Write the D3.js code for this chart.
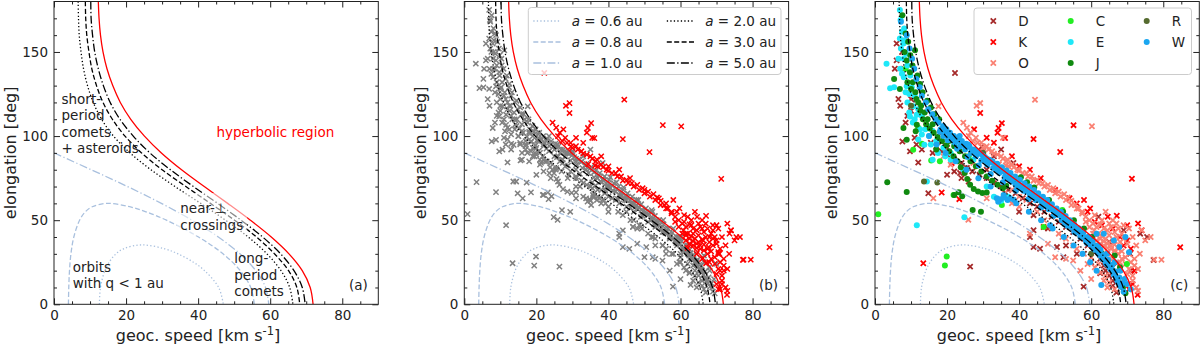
<!DOCTYPE html>
<html>
<head>
<meta charset="utf-8">
<script src="https://cdn.jsdelivr.net/npm/d3@7"></script>
<style>
  body { margin: 0; background: #fff; }
  svg { display: block; font-family: "DejaVu Sans", sans-serif; }
</style>
</head>
<body>
<div id="vis"></div>
<script>
// ---- theoretical curves: [geoc. speed, elongation] ----
const curveA06 = [[12.6,0],[12.9,10],[14.1,20],[15.3,25],[17.2,30],[19.3,33],[24.3,35.3],[30.7,33],[34.4,30],[38.7,25],[41.8,20],[45.7,10],[47.0,0]];
const curveA08 = [[4.0,0],[4.1,10],[4.3,20],[4.7,30],[5.5,40],[7.1,50],[8.7,55],[10.6,58],[14.9,60],[21.0,58],[25.5,55],[31.2,50],[40.1,40],[46.9,30],[51.7,20],[54.6,10],[55.6,0]];
const curveA10 = [[0,90],[10.3,80],[20.4,70],[29.8,60],[38.3,50],[45.6,40],[51.6,30],[56.0,20],[58.7,10],[59.6,0]];
const curveA20 = [[6.7,180],[6.8,170],[7.0,160],[7.5,150],[8.2,140],[9.3,130],[10.9,120],[13.2,110],[16.5,100],[21.1,90],[26.9,80],[33.6,70],[40.7,60],[47.6,50],[53.9,40],[59.1,30],[63.0,20],[65.4,10],[66.3,0]];
const curveA30 = [[8.7,180],[8.8,170],[9.1,160],[9.7,150],[10.5,140],[11.8,130],[13.6,120],[16.2,110],[19.7,100],[24.3,90],[30.0,80],[36.6,70],[43.4,60],[50.1,50],[56.2,40],[61.2,30],[65.1,20],[67.4,10],[68.2,0]];
const curveA50 = [[10.2,180],[10.3,170],[10.7,160],[11.3,150],[12.3,140],[13.7,130],[15.6,120],[18.3,110],[22.0,100],[26.6,90],[32.3,80],[38.7,70],[45.4,60],[51.9,50],[57.9,40],[62.9,30],[66.6,20],[68.9,10],[69.7,0]];
const curveHyp = [[12.3,180],[12.5,170],[12.9,160],[13.6,150],[14.7,140],[16.3,130],[18.4,120],[21.3,110],[25.1,100],[29.8,90],[35.4,80],[41.7,70],[48.2,60],[54.5,50],[60.3,40],[65.2,30],[68.9,20],[71.1,10],[71.9,0]];

const curveLabels = ['0.6', '0.8', '1.0', '2.0', '3.0', '5.0'];

// ---- meteors by class: [geoc. speed, elongation, hyperbolic(1/0)] ----
const pointsD = [
  [6,155,0],[7.6,96.8,0],[9.7,90.9,0],[12,84.3,0],[14.8,66,0],[23.6,78,0],[26.4,22.4,0],[18,101.8,0],[31,80,0],[38.4,84,0],
  [44,53,0],[44,44,0],[43,40,0],[44,34,0],[45.8,33,0],[50.5,34,0],[52.3,28,0],[57.9,10.5,0],[62.5,18.5,0],[59.7,40,0],
  [20,77,0],[22,79,0],[24,75,0],[26,73,0],[16,90,0],[13,92,0],[11,99,0],[7.5,150,0],[8,140,0],[10,122,0],
  [36,64,0],[40,55,0],[48,45,0],[53,35,0],[56,30,0],[60,25,0],[64,20,0],[66,14,0],[67,7,0],[35,92,0],[33,88,0],[30,91,0],
  [15.5,96,0],[17,94,0],[18.5,96.5,0],[20,93,0],[18.5,91,0],[20,89,0],[22,86,0],[24,84,0],[25.5,81,0],[27,79,0],
  [29,77,0],[31,75,0],[33,72,0],[35,70,0],[37,68,0],[39,66,0],[41,63,0],[43,60,0],[45,58,0],[47,55,0],
  [49,52,0],[51,49,0],[53,46,0],[55,43,0],[57,39,0],[59,35,0],[61,31,0],[62.5,27,0],[63.5,23,0],[65,17,0],
  [66,11,0],[10,115,0],[9,112,0],[8.5,108,0],[7,118,0],[6.5,122,0],[5.5,140,0],[6,145,0],[11.5,95,0],
  [22.2,137.5,1],[29.6,93.8,1],[67.1,24.4,1],[70.8,30,1],[73.6,42,1],[75.5,40,1],[77.3,26.4,1],[62,52,1],[65,37,1],[69,44,1],[71,20,1]
];
const pointsK = [
  [13.4,24.4,0],[18.5,66.5,0],[21.3,84,0],[23.4,62.5,0],[46.8,46,0],
  [29.2,113.7,1],[34.3,104.8,1],[35.2,107.7,1],[36.1,98.8,1],[44,98.2,1],[51.4,90.5,1],[55.1,106.5,1],[71.3,74.6,1],[84.7,33.9,1],
  [59.7,57,1],[64.6,52,1],[67.1,52.6,1],[74,44,1],[72.9,5.6,1],[70.5,9,1],[71.5,12,1],[72,20,1],[69,35,1],[34,102,1],[38,88,1],
  [43,80,1],[58,62,1],[59,55,1],[73,48,1],[70,47,1],
  [66,45,1],[68,40,1],[70,38,1],[71,33,1],[63,47,1],[61,49,1],[56,60,1],[54,63,1],[50,68,1],[46,75,1],[40,82,1],[33,96,1],[31,99,1],[27.5,104,1]
];
const pointsO = [
  [16.2,63,0],[17.6,117.7,0],[12.5,118,0],[14,110,0],[19,88,0],[21,83,0],[27.3,84,0],[25.9,50.2,0],[43,42,0],[48,36,0],
  [50,28,0],[53,27,0],[55,26,0],[57,20,0],[59,24,0],[60,15,0],[61,22,0],[62.5,19,0],[63.5,14,0],[64.5,10,0],[65.5,20,0],
  [55,35,0],[52,40,0],[45,55,0],[40,58,0],[38,60,0],[36,66,0],[31,63,0],
  [47,50,0],[49,46,0],[51,42,0],[53,39,0],[56,33,0],[58,30,0],[60,28,0],[62,24,0],[64,17,0],[65,13,0],[66.5,9,0],[42,62,0],[40,64,0],[38,68,0],
  [59.5,50,1],[60.5,48,1],[61.5,46,1],[62.5,47.5,1],[63.5,45,1],[64.5,44,1],[65.5,46,1],[66.5,43,1],[67.5,45,1],[68.5,42,1],
  [60.8,44,1],[62,42,1],[63,40.5,1],[64,39,1],[65,41,1],[66,38.5,1],[67,40,1],[68,37,1],[69,39,1],[70,36,1],
  [61.5,38,1],[62.5,36,1],[63.5,35,1],[64.5,33.5,1],[65.5,35,1],[66.5,32,1],[67.5,30,1],[68.5,31.5,1],[69.5,28,1],[70.5,30,1],
  [71,25,1],[72,23,1],[73,21,1],[70,18,1],[71.5,14,1],[72.5,10,1],[73,8,1],[66,27,1],[68,25,1],[64.5,30,1],[62,33.5,1],
  [58.5,52,1],[57.5,55,1],[56.5,57,1],[55.5,59,1],[54.5,61.5,1],[53.5,63.5,1],[52.5,65.5,1],[51,67,1],[49.5,69,1],[48,71,1],
  [46.5,72,1],[45,74,1],[43.5,76,1],[42,78,1],[74,44,1],[75,38,1],[76.5,40,1],[77.5,26.5,1],[79.5,26.5,1],[60.2,105.8,1],
  [44.4,121.6,1],[29.2,119.6,1],[28.2,118,1],[35.5,99,1],[37,82,1],[34.4,83.3,1],[36.3,82.5,1],[36.8,86,1],
  [26.5,102,1],[28,99,1],[29.5,96,1],[31,94,1],[32.5,91,1],[34,89,1],[35.5,86.5,1],[38.5,81.5,1],[40,79.5,1],
  [24.5,108,1],[25.5,105,1],[26,100,1],[27.2,97,1],[28.5,96,1],[30,93,1],[31.5,92,1],[33,89.5,1],[35,88,1],[36.5,85,1],
  [38,83,1],[39.5,80,1],[41,78,1],[42.5,76,1],[44,73.5,1],[45.5,72,1],[47,70,1],[48.5,68,1],[50,66,1],[51.5,64,1],
  [53,62,1],[54.5,59,1],[56,57,1],[57.5,54,1],[58.5,49,1],[59.5,46,1],[60.5,42,1],[61.5,41,1],[62.5,39,1],[63.5,37.5,1],
  [64.5,36,1],[65.5,33,1],[66.5,35.5,1],[67.5,33,1],[68.5,27,1],[69.5,24,1],[70.5,21,1],[71.5,17,1],[70.5,45,1],[71.5,40,1],
  [72.5,35,1],[73.5,30,1],[72,27,1],[63,50,1],[65,48,1],[67,48,1],[69,47,1],[61,53,1],[64,55,1],[66,50,1]
];
const pointsC = [
  [0.9,53.6,0],[19.9,28.4,0],[19.4,23,0],[13,95.4,0],[10.6,91.9,0],[15.6,85.5,0],[18,85,0],[21.8,65,0],[35.2,59,0],
  [46.8,46,0],[69.9,24,0],[8.5,140,0],[12,105,0],[52,56,0],[26,88,0],[40,70,0]
];
const pointsE = [
  [6.9,175,0],[7.1,169,0],[8.1,164,0],[6.9,158,0],[7.9,155,0],[8.6,149,0],[3.2,143,0],[5.3,129,0],[4.2,128.5,0],[8.8,129.6,0],
  [10.6,117.7,0],[9.7,111.7,0],[11.6,112.7,0],[13.7,94.8,0],[16,86,0],[14.4,73,0],[11.6,47,0],[24.8,51.8,0],[24.5,80,0],[27.3,86,0],
  [31,70,0],[9.5,125,0],[10.5,108,0],[12.5,104,0],[15,100,0],[17,97,0],[19,93,0],[21,90,0],[14,104,0],[8,135,0],
  [9,120,0],[22,95,0],[33,64,0],[35,61.5,0],[37,64,0],
  [7.5,162,0],[8.2,157,0],[7.2,152,0],[8,146,0],[9,142,0],[9.8,136,0],[10.2,129,0],[11,124,0],[12,116,0],[13,112,0],
  [14.5,106,0],[16,103,0],[7,140,0],[6.5,146,0],[7.5,137,0],[8.5,126,0],[9.5,114,0],[11,110,0],[12,98,0],[13,101,0],
  [15.5,95,0],[17.5,90,0],[19.5,88,0],[21,86,0]
];
const pointsJ = [
  [7.6,171.8,0],[8.5,161,0],[11.1,151,0],[8.8,145,0],[9.7,138,0],[5.3,134,0],[6.9,128,0],[10.5,132,0],[11.2,126,0],[12,120,0],
  [12.6,115,0],[13.3,110,0],[7.9,104.8,0],[8.8,97.8,0],[11.3,102.8,0],[11.6,106.7,0],[14.2,107,0],[15.2,104.5,0],[16.3,102,0],[17.4,99.5,0],
  [18.6,97,0],[19.8,94.5,0],[20.6,91,0],[21.8,88,0],[22.9,85,0],[23.8,81.5,0],[24.9,78,0],[25.6,74.5,0],[26.4,71,0],[27.4,68.5,0],
  [28.6,67,0],[29.8,66.2,0],[31,66.5,0],[22,65,0],[24.2,64.2,0],[23.2,66.6,0],[3.4,72.6,0],[8.8,66.7,0],[27.1,56,0],[29.4,55,0],
  [36.4,70.5,0],[38.6,73.5,0],[40.5,75.5,0],[42.2,72.5,0],[44.2,69.5,0],[48.3,62,0],[52.2,55,0],[55.2,50,0],[58,45,0],[60.2,40,0],
  [62.8,30.5,0],[64.5,25.5,0],[66,20,0],[67.5,15,0],[68.8,10,0],[69.5,6.5,0],[66.5,29,0],[68,22,0],
  [9.2,156,0],[9.8,148,0],[10.4,142,0],[11.8,136,0],[12.5,131,0],[13.2,126,0],[14.5,121,0],[15.5,117,0],[16.5,113,0],[17.8,110,0],
  [8.2,150,0],[9,132,0],[10,128,0],[11.5,122,0],[12.8,118,0],[13.8,114,0],[14.6,110,0],[16,107,0],[19,103,0],[20.5,97,0],
  [22,94,0],[23.5,91,0],[25,88,0],[26.5,85,0],[28,82,0],[29.5,79,0],[31,76,0],[32.5,73.5,0],[34,71,0],[35.5,69,0],[17,92,0]
];
const pointsR = [[17.3,72.4,0],[13.6,73,0],[30,90,0],[45,64,0],[60,30,0],[10,118,0]];
const pointsW = [
  [7.2,168,0],[8.8,160,0],[9.6,152,0],[10.3,146,0],[10.9,140,0],[11.5,134,0],[12.4,129,0],[13,124,0],[14.1,120,0],[14.8,116,0],
  [15.9,113,0],[16.8,110,0],[17.6,108,0],[18.9,106,0],[19.8,104,0],[20.8,102,0],[21.9,100,0],[23,98.5,0],[24.1,97,0],[25.3,95.5,0],
  [26.2,94,0],[27.5,92,0],[28.6,90,0],[29.9,88.5,0],[31,86.5,0],[32.4,84.5,0],[33.5,82.5,0],[34.8,80.5,0],[36,78.5,0],[37.3,76.5,0],
  [38.5,74.5,0],[39.8,72.5,0],[41,70.5,0],[42.3,68.5,0],[43.5,66.5,0],[44.8,64.5,0],[46,62,0],[47.2,60,0],[48.5,57.5,0],[49.8,55.5,0],
  [51,53,0],[52.2,50.5,0],[53.5,48,0],[54.7,45.5,0],[56,43,0],[57.2,40.5,0],[58.5,38,0],[59.7,35.5,0],[60.9,33,0],[62,30,0],
  [63.1,27,0],[64.2,24,0],[65.3,21,0],[66.3,17.5,0],[67.3,14,0],[68.2,10.5,0],[69,7.5,0],
  [19,100,0],[20.5,99,0],[22.2,96,0],[23.6,94,0],[25,92,0],[26.6,90,0],[28,88,0],[29.5,85.5,0],[31.2,83,0],[32.8,81,0],
  [34.5,78,0],[36,75.5,0],[37.8,73,0],[39.5,70,0],[41.2,67.5,0],[43,65,0],[44.6,62,0],[46.5,59.5,0],[48.2,56.5,0],[50,53.5,0],
  [51.8,50,0],[53.5,46.5,0],[55.3,43,0],[57,40,0],[58.8,36.5,0],[60.6,33,0],[62.4,29,0],[64,25,0],[65.5,20.5,0],[67,15.5,0],
  [33.8,63,0],[34.8,62.5,0],[35.8,63.5,0],[36.8,62,0],[34.2,61,0],[37.5,63,0],[38.5,62.2,0],
  [62.8,11.5,0],[48.6,47,0],[47.7,59,0],
  [18.2,104,0],[19.4,102.5,0],[20.6,101,0],[21.5,98,0],[22.8,97,0],[24,95,0],[25.5,93.5,0],[26.8,92,0],[27.9,91,0],[29.2,89.5,0],
  [30.5,87.5,0],[31.7,86,0],[32.6,85,0],[33.9,83.5,0],[35.2,81.5,0],[36.5,79.5,0],[37.6,78,0],[38.9,76,0],[40.2,74,0],[41.5,72,0],
  [42.8,70,0],[44.1,68,0],[45.3,66,0],[46.6,64,0],[47.8,62,0],[49.1,59.5,0],[50.4,57,0],[51.6,55,0],[52.9,52.5,0],[54.1,50,0],
  [55.3,47.5,0],[56.6,45,0],[57.8,42.5,0],[59,40,0],[60.3,37.5,0],[61.4,35,0],[62.6,32.5,0],[63.6,29.5,0],[64.7,26.5,0],[65.8,23,0],
  [66.8,19.5,0],[67.8,16,0],[68.6,12.5,0],
  [39,71,0],[40.5,69,0],[42,67,0],[43.6,64,0],[45,62,0],[46.4,60,0],[47.6,58,0],[49.2,56,0],[50.5,54,0],[52,52,0],
  [53.2,49.5,0],[54.4,47.5,0],[55.8,45,0],[57,42,0],[58.2,39.5,0],[59.5,37,0],[60.7,34,0],[61.8,31,0],[63,28,0],[64.2,25.5,0],[65.2,23.5,0],
  [23.5,100,0],[25.8,95,0],[28.1,90,0],[30.9,85,0],[33.8,80,0],[37,75,0],[40.2,70,0],[43.6,65,0],[46.9,60,0],[50.2,55,0],
  [53.4,50,0],[56.5,45,0],[59.4,40,0],[62,35,0],[64.4,30,0],[66.5,25,0],[68.1,20,0],[69.3,15,0],
  [15,100,0],[17.1,95,0],[19.6,90,0],[22.4,85,0],[25.4,80,0],[28.7,75,0],[32.1,70,0],[35.7,65,0],[39.2,60,0],[42.7,55,0],
  [46.1,50,0],[49.3,45,0],[52.4,40,0],[55.1,35,0],[57.6,30,0],[59.7,25,0],[61.5,20,0],
  [18,102.5,0],[20.2,97.5,0],[22.8,92.5,0],[25.7,87.5,0],[28.8,82.5,0],[32.1,77.5,0],[35.5,72.5,0],[39.1,67.5,0],[42.6,62.5,0],[46.1,57.5,0],
  [49.5,52.5,0],[52.7,47.5,0],[55.8,42.5,0],[58.6,37.5,0],[61,32.5,0],[63.1,27.5,0],[64.9,22.5,0],[66.4,17.5,0],[67.6,12.5,0],
  [61.5,42,1],[63.5,42,1],[66.3,38,1],[67.8,34,1],[69.5,40,1],[70.5,31,1],[70,12,1],[71,9,1]
];

const classes = [
  {key: 'D', pts: pointsD, color: '#a52a2a', mark: 'x'},
  {key: 'K', pts: pointsK, color: '#ff0000', mark: 'x'},
  {key: 'O', pts: pointsO, color: '#fa8072', mark: 'x'},
  {key: 'C', pts: pointsC, color: '#22ee22', mark: 'o'},
  {key: 'E', pts: pointsE, color: '#1ee8f8', mark: 'o'},
  {key: 'J', pts: pointsJ, color: '#108a10', mark: 'o'},
  {key: 'R', pts: pointsR, color: '#556b2f', mark: 'o'},
  {key: 'W', pts: pointsW, color: '#1aa6f0', mark: 'o'},
];

const lightBlue = '#a9c0de';
const curves = [
  {pts: curveA06, color: lightBlue, dash: '1.3,2.2'},
  {pts: curveA08, color: lightBlue, dash: '5,2.4'},
  {pts: curveA10, color: lightBlue, dash: '8,2.4,1.3,2.4'},
  {pts: curveA20, color: '#000', dash: '1.3,2.2'},
  {pts: curveA30, color: '#000', dash: '5,2.4'},
  {pts: curveA50, color: '#000', dash: '8,2.4,1.3,2.4'},
  {pts: curveHyp, color: '#ff0000', dash: null},
];

const width = 1200, height = 345;
const panelLeft = [54, 464.3, 875];
const panelTop = 1.5;
const pw = 324.3, ph = 302.8;
const fs = 13.5;

const svg = d3.select('#vis').append('svg')
    .attr('width', width)
    .attr('height', height);

const x = d3.scaleLinear().domain([0, 90]).range([0, pw]);
const y = d3.scaleLinear().domain([0, 180]).range([ph, 0]);

const line = d3.line()
    .x(d => x(d[0]))
    .y(d => y(d[1]))
    .curve(d3.curveCatmullRom);

const crossPath = s => `M${-s},${-s}L${s},${s}M${-s},${s}L${s},${-s}`;

['a', 'b', 'c'].forEach((id, i) => {
  const g = svg.append('g')
      .attr('transform', `translate(${panelLeft[i]},${panelTop})`);

  g.append('clipPath').attr('id', 'clip-' + id)
    .append('rect').attr('width', pw).attr('height', ph);

  const plot = g.append('g').attr('clip-path', `url(#clip-${id})`);

  // points sit under the curves
  if (id === 'b') drawHypPoints(plot);
  if (id === 'c') drawClassPoints(plot);

  plot.selectAll('path.curve')
    .data(curves)
    .join('path')
      .attr('class', 'curve')
      .attr('d', d => line(d.pts))
      .attr('fill', 'none')
      .attr('stroke', d => d.color)
      .attr('stroke-width', 1.3)
      .attr('stroke-dasharray', d => d.dash);

  if (id === 'a') drawAnnotations(g);

  drawAxes(g);

  g.append('text')
      .attr('x', pw - 20)
      .attr('y', 288.5)
      .attr('text-anchor', 'middle')
      .attr('font-size', fs)
      .attr('fill', '#222')
      .text(`(${id})`);

  if (id === 'b') drawCurveLegend(g);
  if (id === 'c') drawClassLegend(g);
});


function drawHypPoints(plot) {
  const all = classes.flatMap(c => c.pts);
  const ordered = all.filter(d => !d[2]).concat(all.filter(d => d[2]));
  plot.selectAll('path.pt')
    .data(ordered)
    .join('path')
      .attr('class', 'pt')
      .attr('transform', d => `translate(${x(d[0])},${y(d[1])})`)
      .attr('d', crossPath(2.6))
      .attr('stroke', d => d[2] ? '#ff0000' : '#808080')
      .attr('stroke-width', 1.5);
}


function drawClassPoints(plot) {
  classes.forEach(c => {
    const sel = plot.append('g').selectAll('.pt').data(c.pts);
    if (c.mark === 'x') {
      sel.join('path')
          .attr('transform', d => `translate(${x(d[0])},${y(d[1])})`)
          .attr('d', crossPath(2.6))
          .attr('stroke', c.color)
          .attr('stroke-width', 1.8);
    } else {
      sel.join('circle')
          .attr('cx', d => x(d[0]))
          .attr('cy', d => y(d[1]))
          .attr('r', 3)
          .attr('fill', c.color);
    }
  });
}


function drawAxes(g) {
  const xMajor = [0, 20, 40, 60, 80];
  const yMajor = [0, 50, 100, 150];
  const xMinor = d3.range(5, 90, 5).filter(v => v % 20);
  const yMinor = d3.range(10, 180, 10).filter(v => v % 50);

  const styleAxis = a => {
    a.select('.domain').remove();
    a.selectAll('line').attr('stroke', '#222');
    a.selectAll('text').attr('font-size', fs).attr('fill', '#222')
      .attr('font-family', '"DejaVu Sans", sans-serif');
  };

  g.append('g').attr('transform', `translate(0,${ph})`)
    .call(d3.axisBottom(x).tickValues(xMajor).tickSize(-6).tickPadding(6)).call(styleAxis);
  g.append('g').attr('transform', `translate(0,${ph})`)
    .call(d3.axisBottom(x).tickValues(xMinor).tickSize(-3).tickFormat('')).call(styleAxis);
  g.append('g')
    .call(d3.axisTop(x).tickValues(xMajor).tickSize(-6).tickFormat('')).call(styleAxis);
  g.append('g')
    .call(d3.axisTop(x).tickValues(xMinor).tickSize(-3).tickFormat('')).call(styleAxis);

  g.append('g')
    .call(d3.axisLeft(y).tickValues(yMajor).tickSize(-6).tickPadding(6)).call(styleAxis);
  g.append('g')
    .call(d3.axisLeft(y).tickValues(yMinor).tickSize(-3).tickFormat('')).call(styleAxis);
  g.append('g').attr('transform', `translate(${pw},0)`)
    .call(d3.axisRight(y).tickValues(yMajor).tickSize(-6).tickFormat('')).call(styleAxis);
  g.append('g').attr('transform', `translate(${pw},0)`)
    .call(d3.axisRight(y).tickValues(yMinor).tickSize(-3).tickFormat('')).call(styleAxis);

  g.append('rect')
      .attr('width', pw)
      .attr('height', ph)
      .attr('fill', 'none')
      .attr('stroke', '#222')
      .attr('stroke-width', 1);

  // the x label sits left of the panel centre in the reference
  const xl = g.append('text')
      .attr('x', 144)
      .attr('y', ph + 37)
      .attr('text-anchor', 'middle')
      .attr('font-size', 16)
      .attr('fill', '#222');
  xl.append('tspan').text('geoc. speed [km s');
  xl.append('tspan').attr('dy', -6).attr('font-size', 11.5).text('-1');
  xl.append('tspan').attr('dy', 6).text(']');

  g.append('text')
      .attr('transform', `translate(-38,${ph / 2}) rotate(-90)`)
      .attr('text-anchor', 'middle')
      .attr('font-size', 16)
      .attr('fill', '#222')
      .text('elongation [deg]');
}


function drawAnnotations(g) {
  const notes = [
    {lines: ['short-', 'period', 'comets', '+ asteroids'], x: 7.5, y: 102, color: '#222', box: false},
    {lines: ['hyperbolic region'], x: 162.5, y: 135, color: '#ff0000', box: false},
    {lines: ['near-\u22a5', 'crossings'], x: 126.3, y: 211.5, color: '#222', box: true},
    {lines: ['orbits', 'with q < 1 au'], x: 18.7, y: 270, color: '#222', box: false},
    {lines: ['long-', 'period', 'comets'], x: 180.3, y: 261.5, color: '#222', box: false},
  ];
  notes.forEach(n => {
    const t = g.append('text')
        .attr('font-size', fs)
        .attr('fill', n.color);
    n.lines.forEach((l, i) => {
      t.append('tspan').attr('x', n.x).attr('y', n.y + i * 16.5).text(l);
    });
    if (n.box) {
      const b = t.node().getBBox();
      g.insert('rect', () => t.node())
          .attr('x', b.x - 4).attr('y', b.y - 7)
          .attr('width', b.width + 8).attr('height', b.height + 10)
          .attr('fill', '#fff').attr('fill-opacity', 0.55);
    }
  });
}


function drawCurveLegend(g) {
  const lg = g.append('g').attr('transform', `translate(${528.3 - 464.3},6)`);
  lg.append('rect')
      .attr('width', 252.7).attr('height', 67).attr('rx', 3)
      .attr('fill', '#fff').attr('fill-opacity', 0.8)
      .attr('stroke', '#ccc');
  const items = curves.slice(0, 6).map((c, i) => ({...c, label: curveLabels[i]}));
  const rows = [13.5, 34.5, 55.5];
  const item = lg.selectAll('g.item')
    .data(items)
    .join('g')
      .attr('class', 'item')
      .attr('transform', (d, i) => `translate(${i < 3 ? 5 : 138.5},${rows[i % 3]})`);
  item.append('line')
      .attr('x1', 0).attr('x2', 27.5)
      .attr('stroke', d => d.color)
      .attr('stroke-width', 1.3)
      .attr('stroke-dasharray', d => d.dash);
  const t = item.append('text')
      .attr('x', 38.5).attr('y', 5)
      .attr('font-size', fs)
      .attr('fill', '#222');
  t.append('tspan').attr('font-style', 'italic').text('a');
  t.append('tspan').text(d => ` = ${d.label} au`);
}


function drawClassLegend(g) {
  const lg = g.append('g').attr('transform', `translate(${974 - 875},6.5)`);
  lg.append('rect')
      .attr('width', 217.5).attr('height', 66.5).attr('rx', 3)
      .attr('fill', '#fff').attr('fill-opacity', 0.8)
      .attr('stroke', '#ccc');
  const rows = [13, 34, 55];
  const cols = [19.3, 96.7, 172.7];
  const item = lg.selectAll('g.item')
    .data(classes)
    .join('g')
      .attr('class', 'item')
      .attr('transform', (d, i) => `translate(${cols[Math.floor(i / 3)]},${rows[i % 3]})`);
  item.each(function(d) {
    const s = d3.select(this);
    if (d.mark === 'x') {
      s.append('path').attr('d', crossPath(2.6)).attr('stroke', d.color).attr('stroke-width', 1.8);
    } else {
      s.append('circle').attr('r', 3).attr('fill', d.color);
    }
  });
  item.append('text')
      .attr('x', 25).attr('y', 5)
      .attr('font-size', fs)
      .attr('fill', '#222')
      .text(d => d.key);
}
</script>
</body>
</html>
